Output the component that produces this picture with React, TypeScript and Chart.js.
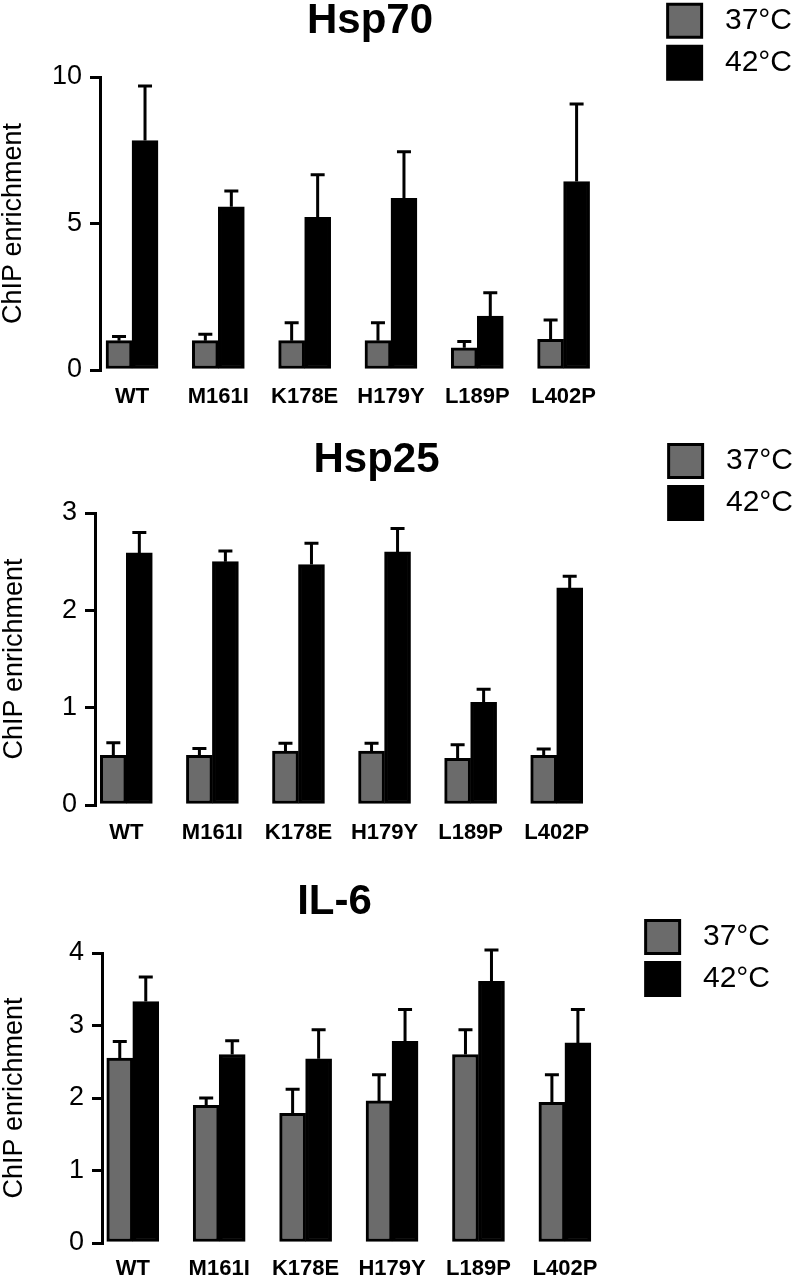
import React, { useEffect, useRef } from 'react';
import { Chart, registerables } from 'chart.js';

Chart.register(...registerables);
Chart.defaults.font.family = "'Liberation Sans', Arial, Helvetica, sans-serif";
Chart.defaults.color = '#000';

// ---------- data ----------
const categories = ['WT', 'M161I', 'K178E', 'H179Y', 'L189P', 'L402P'];
const seriesLabels = ['37°C', '42°C'];
const seriesColors = ['#6b6b6b', '#000000'];

const hsp70At37 = [1.0, 1.0, 1.0, 1.0, 0.76, 1.05];
const hsp70At37Err = [0.14, 0.22, 0.61, 0.61, 0.21, 0.66];
const hsp70At42 = [7.83, 5.57, 5.21, 5.86, 1.84, 6.43];
const hsp70At42Err = [1.86, 0.54, 1.45, 1.59, 0.8, 2.65];
const hsp70Ticks = [0, 5, 10];

const hsp25At37 = [0.51, 0.51, 0.555, 0.555, 0.48, 0.51];
const hsp25At37Err = [0.13, 0.07, 0.08, 0.08, 0.14, 0.065];
const hsp25At42 = [2.59, 2.5, 2.47, 2.6, 1.055, 2.23];
const hsp25At42Err = [0.21, 0.11, 0.22, 0.24, 0.135, 0.12];
const hsp25Ticks = [0, 1, 2, 3];

const il6At37 = [2.55, 1.9, 1.79, 1.96, 2.6, 1.94];
const il6At37Err = [0.23, 0.1, 0.33, 0.36, 0.34, 0.38];
const il6At42 = [3.33, 2.6, 2.54, 2.78, 3.61, 2.76];
const il6At42Err = [0.34, 0.19, 0.4, 0.44, 0.43, 0.46];
const il6Ticks = [0, 1, 2, 3, 4];

// ---------- plugins ----------
const errorBarPlugin = {
  id: 'errorBars',
  afterDatasetsDraw(chart: any, _args: any, opts: any) {
    const errs: number[][] = opts.errors || [];
    const ctx = chart.ctx;
    const yScale = chart.scales.y;
    ctx.save();
    ctx.strokeStyle = '#000';
    ctx.lineWidth = 3;
    ctx.lineCap = 'butt';
    chart.data.datasets.forEach((ds: any, di: number) => {
      const meta = chart.getDatasetMeta(di);
      meta.data.forEach((bar: any, i: number) => {
        const err = errs[di] ? errs[di][i] : undefined;
        if (err == null) return;
        const v = ds.data[i].y;
        const yTop = yScale.getPixelForValue(v + err);
        ctx.beginPath();
        ctx.moveTo(bar.x, bar.y);
        ctx.lineTo(bar.x, yTop);
        ctx.moveTo(bar.x - 7, yTop);
        ctx.lineTo(bar.x + 7, yTop);
        ctx.stroke();
      });
    });
    ctx.restore();
  },
};

const titleCenterPlugin = {
  id: 'titleCenter',
  afterLayout(chart: any, _args: any, opts: any) {
    const t = chart.titleBlock;
    if (!t || opts.x == null) return;
    const dx = opts.x - (t.left + t.right) / 2;
    t.left += dx;
    t.right += dx;
  },
};

interface PanelCfg {
  title: string;
  s37: number[];
  e37: number[];
  s42: number[];
  e42: number[];
  yTicks: number[];
  top: number;
  w: number;
  h: number;
  axisX: number;
  xAxisH: number;
  xMin: number;
  xMax: number;
  titleX: number;
  titlePadTop: number;
  titlePadBottom: number;
  legendSpacer: number;
  xLabelPad: number;
  yTitlePad: number;
}

const panels: PanelCfg[] = [
  {
    title: 'Hsp70', s37: hsp70At37, e37: hsp70At37Err, s42: hsp70At42, e42: hsp70At42Err, yTicks: hsp70Ticks,
    top: -10, w: 802, h: 430, axisX: 100, xAxisH: 50, xMin: -0.371, xMax: 6.101,
    titleX: 370, titlePadTop: 10, titlePadBottom: 35, legendSpacer: 4.2, xLabelPad: 13.3, yTitlePad: 0,
  },
  {
    title: 'Hsp25', s37: hsp25At37, e37: hsp25At37Err, s42: hsp25At42, e42: hsp25At42Err, yTicks: hsp25Ticks,
    top: 420, w: 803, h: 440, axisX: 95, xAxisH: 55, xMin: -0.364, xMax: 6.196,
    titleX: 376.5, titlePadTop: 19, titlePadBottom: 32, legendSpacer: 14.5, xLabelPad: 14.8, yTitlePad: 1.5,
  },
  {
    title: 'IL-6', s37: il6At37, e37: il6At37Err, s42: il6At42, e42: il6At42Err, yTicks: il6Ticks,
    top: 860, w: 780, h: 420, axisX: 102, xAxisH: 37, xMin: -0.356, xMax: 5.83,
    titleX: 334.5, titlePadTop: 21, titlePadBottom: 30, legendSpacer: 50.5, xLabelPad: 12.8, yTitlePad: 1.5,
  },
];

function Panel({ cfg }: { cfg: PanelCfg }) {
  const ref = useRef<HTMLCanvasElement>(null);
  useEffect(() => {
    if (!ref.current) return;
    const series = [cfg.s37, cfg.s42];
    const chart = new Chart(ref.current, {
      type: 'bar',
      data: {
        datasets: series.map((vals, si) => ({
          label: seriesLabels[si],
          data: vals.map((v, i) => ({ x: i, y: v })),
          backgroundColor: seriesColors[si],
          borderColor: '#000',
          borderWidth: 3,
          borderSkipped: false,
          barThickness: 26,
        })),
      } as any,
      options: {
        responsive: false,
        animation: false,
        devicePixelRatio: 1,
        layout: { padding: 0 },
        scales: {
          x: {
            type: 'linear',
            bounds: 'data',
            offset: false,
            min: cfg.xMin,
            max: cfg.xMax,
            afterBuildTicks: (s: any) => {
              s.ticks = categories.map((_, i) => ({ value: i }));
            },
            afterFit: (s: any) => {
              s.height = cfg.xAxisH;
            },
            grid: { display: false, drawTicks: false, offset: false },
            border: { display: false },
            ticks: {
              autoSkip: false,
              maxRotation: 0,
              padding: cfg.xLabelPad,
              color: '#000',
              font: { size: 22, weight: 'bold' },
              callback: (v: any) => categories[Number(v)] ?? '',
            },
          },
          y: {
            type: 'linear',
            bounds: 'data',
            min: cfg.yTicks[0],
            max: cfg.yTicks[cfg.yTicks.length - 1],
            afterBuildTicks: (s: any) => {
              s.ticks = cfg.yTicks.map((t) => ({ value: t }));
            },
            afterFit: (s: any) => {
              s.width = cfg.axisX;
            },
            grid: {
              display: true,
              drawOnChartArea: false,
              drawTicks: true,
              tickLength: 10,
              tickWidth: 3,
              tickColor: '#000',
              color: '#000',
              lineWidth: 3,
            },
            border: { display: true, width: 3, color: '#000' },
            ticks: { padding: 8, color: '#000', font: { size: 27 } },
            title: {
              display: true,
              text: 'ChIP enrichment',
              color: '#000',
              font: { size: 27, lineHeight: 1 },
              padding: { top: cfg.yTitlePad, bottom: 0 },
            },
          },
        },
        plugins: {
          tooltip: { enabled: false },
          title: {
            display: true,
            text: cfg.title,
            color: '#000',
            font: { size: 42, weight: 'bold', lineHeight: 1 },
            padding: { top: cfg.titlePadTop, bottom: cfg.titlePadBottom },
          },
          legend: {
            position: 'right',
            align: 'start',
            title: {
              display: true,
              text: '',
              font: { size: 1, lineHeight: 1 },
              padding: { top: cfg.legendSpacer, bottom: 0 },
            },
            labels: {
              boxWidth: 34,
              boxHeight: 33,
              padding: 9,
              color: '#000',
              font: { size: 30 },
              generateLabels: (c: any) =>
                (Chart.defaults.plugins.legend.labels as any)
                  .generateLabels(c)
                  .map((l: any) => ({ ...l, text: ' ' + l.text })),
            },
          },
          errorBars: { errors: [cfg.e37, cfg.e42] },
          titleCenter: { x: cfg.titleX },
        } as any,
      } as any,
      plugins: [errorBarPlugin, titleCenterPlugin] as any,
    });
    return () => chart.destroy();
  }, [cfg]);
  return (
    <canvas
      ref={ref}
      width={cfg.w}
      height={cfg.h}
      style={{ position: 'absolute', left: 0, top: cfg.top, width: cfg.w, height: cfg.h }}
    />
  );
}

export default function App() {
  return (
    <div
      style={{
        position: 'absolute',
        left: 0,
        top: 0,
        width: 796,
        height: 1280,
        overflow: 'hidden',
        background: '#fff',
      }}
    >
      {panels.map((p) => (
        <Panel key={p.title} cfg={p} />
      ))}
    </div>
  );
}
